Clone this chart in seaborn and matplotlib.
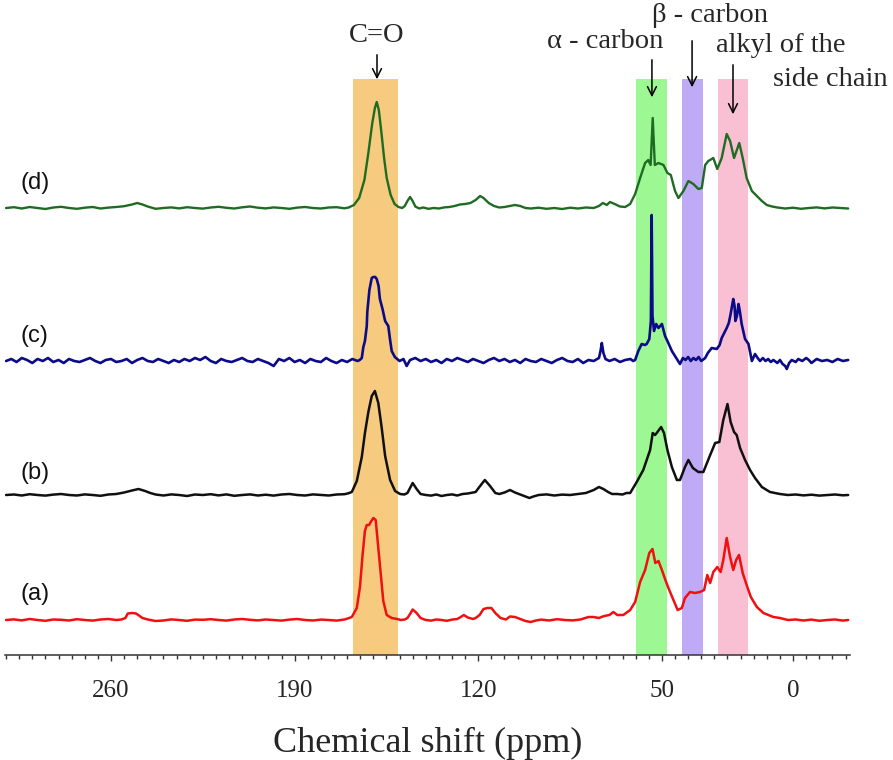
import numpy as np
import pandas as pd
import matplotlib
matplotlib.use("Agg")
import matplotlib.pyplot as plt
from matplotlib.ticker import MultipleLocator, FixedLocator
import seaborn as sns

# ---------------- data ----------------
# (chemical shift in ppm, intensity above the trace's own baseline, arbitrary units)
d_points = [
    (300, 0), (297, 0.8), (294, -0.5), (291, 1), (288, 0), (285, -1), (282, 0.5), (279, 1.2), (276, 0),
    (273, -0.8), (270, 0.3), (267, 1), (264, -0.5), (261, 0.4), (258, 1), (255, 1.8), (252, 3.5), (250, 5),
    (248, 3.5), (246, 1.5), (243, -0.8), (240, 0), (237, 0.6), (234, -0.4), (231, 0.8), (228, 0), (225, -0.6),
    (222, 0.5), (219, 1.2), (216, 0.2), (213, -0.5), (210, 0.7), (207, 1.5), (204, 0.3), (201, -0.4),
    (198, 0.6), (195, 0), (192, -0.8), (189, 0.4), (186, 1), (183, 0), (180, -0.5), (177, 0.5), (174, 0.8),
    (171, -0.3), (169.4, 0.5), (167.4, 3), (165.4, 10), (163.4, 28), (161.9, 55), (160.4, 85), (159.4, 100),
    (158.7, 106), (157.9, 98), (156.9, 75), (155.9, 50), (154.9, 30), (153.4, 13), (151.9, 4), (150.4, 1),
    (149, 0), (148, 2), (147, 7), (146, 11), (145, 7), (144, 1.5), (142.5, -0.5), (141, 0.5), (139, -0.8),
    (137, 0), (135, -0.5), (133, 0.6), (131, 1), (129, 2), (127, 3.5), (125, 4), (123, 5), (121, 8),
    (119.3, 12), (118, 10), (116, 5), (114, 2), (112, 0.5), (110, 1), (108, 2), (106, 3), (104, 2), (102, 0),
    (100, -0.5), (97, 0.3), (94, -0.8), (91, 0), (88, -1), (85, 0.3), (82, -0.5), (79, 0.5), (76, 0), (74, 2),
    (72.5, 5), (71, 3), (69.8, 6), (68, 4), (66, 1.5), (64, 1), (62.1, 4), (60.2, 14), (58.3, 30), (56.4, 45),
    (55.2, 48), (54.3, 43), (53.5, 90), (52.7, 43), (51.3, 45), (49.4, 43), (47.9, 35), (46.6, 33), (45.0, 17),
    (43.7, 10), (41.8, 17), (39.9, 27), (38.0, 24), (36.1, 19), (34.8, 20), (33.5, 43), (32.3, 47), (30.4, 50),
    (28.9, 39), (27.2, 50), (25.3, 74), (24.0, 67), (22.5, 50), (20.5, 65), (19.2, 50), (17.7, 30), (15.7, 17),
    (13.8, 12), (11.9, 7), (10.0, 3), (8, 1.5), (6, 0.5), (3, -0.5), (0, 0.3), (-3, -0.8), (-6, 0), (-9, 0.6),
    (-12, -0.4), (-15, 0.5), (-18, 0), (-21, -0.5),
]

c_points = [
    (300, 0), (298, 2), (296, -1), (294, 3), (292, 1), (290, -2), (288, 2), (286, 0), (284, 3), (282, -1),
    (280, 1), (278, -2), (276, 2), (274, 0), (272, -1), (270, 1), (268, 3), (266, 0), (264, -2), (262, 1),
    (260, 2), (258, -1), (256, 0), (254, 2), (252, -2), (250, 1), (248, 3), (246, 0), (244, -1), (242, 2),
    (240, 0), (238, -2), (236, 1), (234, -1), (232, 2), (230, 0), (228, 3), (226, 1), (224, 4), (222, 0),
    (220, -2), (218, 2), (216, 0), (214, -1), (212, 1), (210, 3), (208, 0), (206, -1), (204, 2), (202, 0),
    (200, -2), (198, -5), (196, 2), (194, 0), (192, 3), (190, -1), (188, 1), (186, -2), (184, 2), (182, 0),
    (180, -1), (178, 3), (176, 0), (174, -2), (172, 1), (170, -1), (168, 2), (166, 0), (165.2, 1), (164.4, 3),
    (163.8, 14), (163.2, 20), (162.5, 35), (162.3, 49), (161.5, 71), (160.6, 83), (160.0, 84), (159.3, 84),
    (158.7, 82), (158.0, 75), (157.5, 62), (156.5, 52), (155.5, 40), (154.3, 35), (153.6, 21), (153.0, 10),
    (151.8, 4), (150, 0), (148.5, 2), (147.3, -5), (146, 1), (144, 3), (142, 0), (140, 2), (138, -1), (136, 1),
    (134, -2), (132, 2), (130, 0), (128, 3), (126, 1), (124, -1), (122, 2), (120, 0), (118, -2), (116, 1),
    (114, 3), (112, 0), (110, 2), (108, -1), (106, 1), (104, -2), (102, 2), (100, 0), (98, -1), (96, 2),
    (94, 0), (92, -2), (90, 1), (88, 3), (86, 0), (84, -1), (82, 2), (80, -2), (78, 1), (76, 0), (74, 3),
    (73.4, 10), (72.9, 18), (72.3, 8), (71.5, 2), (70, 0), (68, 2), (66, -1), (64, 1), (62, 2), (61, 0),
    (60.2, 1), (59.0, 10), (57.7, 17), (56.5, 16), (55.8, 17), (54.8, 22), (54.2, 40), (53.9, 146), (53.6, 45),
    (53.0, 30), (52.2, 37), (51.3, 33), (50.0, 37), (48.8, 25), (47.9, 20), (46.2, 10), (44.3, 2), (43.1, -3),
    (42, 3), (41, 1), (40, 4), (39, 0), (38, 3), (37, 1), (36, 4), (35, 0), (34, 2), (33.5, 3), (32.5, 8),
    (31.0, 13), (29.1, 12), (28, 16), (27.2, 23), (25.3, 33), (24.5, 38), (23.8, 47), (22.8, 62), (22.3, 55),
    (22.0, 40), (21.4, 45), (20.8, 57), (20.3, 50), (19.6, 37), (18.3, 22), (17.0, 17), (15.7, 0), (14.5, 7),
    (13.5, 3), (12.6, 0), (11.5, 3), (10.5, 0), (9.5, 2), (8.5, -1), (7.5, 1), (6, -2), (5, 1), (4, -3),
    (3, -5), (2.4, -8), (1.5, -2), (0.5, 1), (-1, -1), (-2, 2), (-3.5, 0), (-5, 3), (-6, 1), (-7, -2),
    (-9, 2), (-11, 0), (-13, 1), (-15, -1), (-17, 2), (-19, 0), (-21, 1),
]

b_points = [
    (300, 0), (297, 0.5), (294, -0.5), (291, 0.8), (288, 0), (285, -0.6), (282, 0.4), (279, 1), (276, 0),
    (273, -0.5), (270, 0.6), (267, 0), (264, -0.8), (261, 0.5), (258, 1), (255, 2.5), (252, 4.5), (249.5, 6),
    (247, 4), (245, 2), (243, 0.5), (240, -0.5), (237, 0.6), (234, 0), (231, -1), (228, 0.5), (225, 0),
    (222, 0.8), (219, -0.4), (216, 0.6), (213, -0.8), (210, 0), (207, 0.6), (204, -0.5), (201, 0.3),
    (198, -0.6), (195, 0.5), (192, 1), (189, 0), (186, -0.5), (183, 0.6), (180, 0), (177, -0.5), (174, 0.5),
    (171, 0.8), (169.8, 1.5), (168.2, 3), (166.3, 14), (164.4, 38), (163.2, 62), (161.9, 83), (160.6, 99),
    (159.4, 104), (158.1, 92), (156.8, 67), (155.5, 39), (153.6, 15), (151.7, 4), (149.8, 1), (148.2, 0.5),
    (147, 2), (146, 7), (145, 12), (143.5, 6), (142, 1), (140, 0), (138, -0.6), (136, 0.5), (134, -1),
    (132, 0), (130, 0.6), (128, -0.5), (126, 1), (124, 1.5), (122, 2.5), (121, 3), (119.3, 9), (117.5, 15),
    (115.5, 9), (113.5, 2), (112, 1), (110, 2.5), (107.9, 5), (106, 2.5), (104, 0.5), (102, -1.5),
    (100.5, -3), (99, -1.5), (97, 0), (94, 0.6), (91, -0.5), (88, 0.4), (85, 0), (82, 1), (79, 2), (76, 5),
    (74, 8), (72.3, 6), (70.5, 3), (69, 1), (67, 1), (65, 0.5), (63.5, 2), (62.1, 2), (59.6, 13), (57.1, 25),
    (54.5, 45), (53.5, 62), (52.6, 60), (51.7, 63), (50.3, 68), (49.2, 62), (47.9, 45), (46.2, 28), (44.3, 15),
    (43.1, 15), (41.2, 28), (39.9, 35), (38.2, 27), (36.1, 23), (34.2, 23), (31.6, 40), (29.7, 52), (28.1, 53),
    (26.6, 75), (25.0, 91), (23.8, 73), (22.5, 63), (21.5, 60), (20.2, 47), (18.3, 35), (16.4, 25), (14.5, 17),
    (11.9, 8), (8.8, 3), (5, 1), (2, 0), (-1, 0.5), (-4, -0.4), (-7, 0.3), (-10, -0.6), (-13, 0), (-16, 0.5),
    (-19, -0.3), (-21, 0),
]

a_points = [
    (300, 0), (297, 0.6), (294, -0.4), (291, 1), (288, 0), (285, -0.8), (282, 0.5), (279, 0.2), (276, -0.5),
    (273, 0.8), (270, 0), (267, -0.6), (264, 0.5), (261, 1), (258, 0), (256, 0.5), (254.5, 2), (253.6, 6.5),
    (252, 7), (250.5, 6.5), (249.6, 5), (248, 2), (246, 0.5), (243, -1), (240, -0.5), (237, 0.6), (234, 0),
    (231, -0.8), (228, 0.4), (225, 0.2), (222, 0.8), (219, 0), (216, -0.6), (213, 0.5), (210, 1), (207, 0.2),
    (204, -0.4), (201, 0.5), (198, 0), (195, -0.6), (192, 0.4), (189, 1), (186, 0), (183, -0.5), (180, 0.4),
    (177, 0), (174, -0.6), (171, 0.5), (169.8, 1.5), (168.2, 3), (166.3, 12), (165.1, 33), (164.1, 65),
    (163.2, 89), (162.5, 95), (161.6, 95), (161.0, 98), (160.0, 102), (159.1, 100), (158.1, 72), (157.2, 47),
    (156.2, 19), (154.9, 5), (153.0, 2), (151, 1), (149.5, 0), (148, 0.5), (147, 2), (146, 6), (145, 10.5),
    (143.5, 7), (142, 2), (140, 0), (138, -0.6), (136, 0.5), (134, 0), (132, -0.8), (130, 0.4), (128, 1),
    (127, 2.5), (125.5, 5), (124, 2.5), (122, 1), (121, 2), (119.5, 5), (118, 11), (116.5, 12), (115, 12),
    (113.5, 7), (111.5, 2), (109.5, 0.5), (107.9, 3.5), (106, 3), (104, 1), (102, -1), (100, -2), (98, -0.5),
    (96, 0.4), (93, -0.5), (90, 0.8), (87, 0), (84, -0.4), (81, 0.5), (78, 3), (76.1, 3), (74, 2), (72, 4),
    (70, 5), (68.5, 8), (67, 5), (64.7, 5), (62.1, 10), (60.2, 18), (58.3, 38), (56.4, 50), (54.8, 67),
    (53.6, 71), (52.5, 57), (51.3, 59), (50.0, 50), (48.4, 38), (47.2, 30), (45.6, 20), (44.0, 10), (42.4, 12),
    (41.2, 22), (39.3, 28), (37.4, 27), (35.5, 28), (33.9, 30), (32.7, 45), (31.6, 37), (30.4, 48), (28.9, 53),
    (27.6, 48), (26.6, 60), (25.3, 82), (24.0, 63), (22.8, 50), (21.7, 60), (20.6, 65), (19.2, 47), (17.7, 35),
    (16.1, 23), (13.8, 13), (11.3, 7), (7.5, 3), (5, 2), (2, 0), (-1, 0.5), (-4, -0.5), (-7, 0.4), (-10, -0.8),
    (-13, 0), (-16, 0.5), (-19, -0.6), (-21, 0),
]

series_names = ["(a)", "(b)", "(c)", "(d)"]
tick_values = [260, 190, 120, 50, 0]
tick_labels = ["260", "190", "120", "50", "0"]

# highlighted regions (ppm from, ppm to)
band_ranges = [(167.7, 150.6), (59.9, 48.0), (42.3, 34.3), (28.6, 17.2)]
band_names = ["C=O", "α - carbon", "β - carbon", "alkyl of the", "side chain"]

# ---------------- styling / layout ----------------
sns.set_theme(style="white")
plt.rcParams["font.family"] = ["Liberation Serif", "DejaVu Serif"]

W, H = 893, 760
fig = plt.figure(figsize=(W / 100, H / 100), dpi=100)
ax_left, ax_right, ax_top, ax_bottom = 5, 850, 79, 655
ax = fig.add_axes([ax_left / W, 1 - ax_bottom / H, (ax_right - ax_left) / W, (ax_bottom - ax_top) / H])
ax.set_xlim(300.4, -21.7)
ax.set_ylim(0, ax_bottom - ax_top)

band_colors = ["#F6CB80", "#9DF792", "#BFAAF6", "#F9C0D3"]
for (p0, p1), col in zip(band_ranges, band_colors):
    ax.axvspan(p1, p0, color=col, lw=0, zorder=0)

offsets = {"(a)": 35, "(b)": 160, "(c)": 294, "(d)": 447}
label_dy = {"(a)": 26, "(b)": 22, "(c)": 25, "(d)": 25}
colors = {"(a)": "#F01010", "(b)": "#101010", "(c)": "#0B0B88", "(d)": "#1F6B22"}
widths = {"(a)": 1.8, "(b)": 1.8, "(c)": 1.9, "(d)": 1.7}
data = {"(a)": a_points, "(b)": b_points, "(c)": c_points, "(d)": d_points}

for name in series_names:
    pts = np.array(data[name], dtype=float)
    df = pd.DataFrame({"ppm": pts[:, 0], "y": pts[:, 1] + offsets[name]})
    sns.lineplot(data=df, x="ppm", y="y", ax=ax, color=colors[name], linewidth=widths[name],
                 estimator=None, sort=False, zorder=3)
    ax.text(289, offsets[name] + label_dy[name], name, ha="center", va="center", fontsize=17,
            family=["Liberation Sans", "DejaVu Sans"], color="#111111")

# axes styling
for s in ["top", "right", "left"]:
    ax.spines[s].set_visible(False)
ax.spines["bottom"].set_color("#333333")
ax.spines["bottom"].set_linewidth(1.1)
ax.set_yticks([])
ax.set_ylabel("")
ax.xaxis.set_major_locator(FixedLocator(tick_values))
ax.set_xticklabels(tick_labels)
ax.xaxis.set_minor_locator(MultipleLocator(5))
ax.tick_params(axis="x", which="major", direction="out", length=4, width=1, color="#333333",
               labelsize=18, pad=14, bottom=True)
ax.tick_params(axis="x", which="minor", direction="out", length=3, width=1, color="#333333", bottom=True)
ax.set_xlabel("Chemical shift (ppm)", fontsize=26, labelpad=18)
ax.grid(False)

# annotations (text + arrows), y in axes fraction from pixel rows
tr = ax.get_xaxis_transform()
def yf(py):
    return (ax_bottom - py) / (ax_bottom - ax_top)

texts = [
    # text, x (ppm), y (px row)
    (band_names[0], 158.6, 35),
    (band_names[1], 71.7, 42),
    (band_names[2], 31.6, 15),
    (band_names[3], 4.6, 45),
    (band_names[4], -14.1, 80),
]
for txt, tx, ty in texts:
    ax.text(tx, yf(ty), txt, transform=tr, ha="center", va="center", fontsize=20.5, clip_on=False)

arrows = [
    # x (ppm), from row, to row
    (158.6, 52, 82),
    (53.8, 57, 100),
    (38.5, 38, 90),
    (22.9, 62, 117),
]
for axx, a0, a1 in arrows:
    ax.annotate("", xy=(axx, yf(a1)), xytext=(axx, yf(a0)), xycoords=tr, textcoords=tr,
                arrowprops=dict(arrowstyle="->", color="black", lw=1.1, mutation_scale=16),
                annotation_clip=False)

fig.savefig("out.png", dpi=100)
